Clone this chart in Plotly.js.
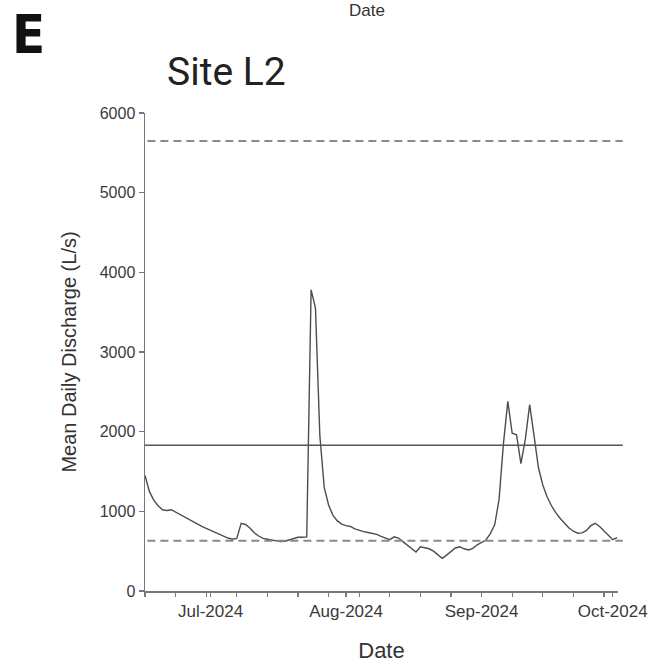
<!DOCTYPE html>
<html>
<head>
<meta charset="utf-8">
<script src="https://cdn.plot.ly/plotly-3.0.1.min.js"></script>
<style>
html,body{margin:0;padding:0;background:#fff;}
#chart{width:659px;height:665px;}
</style>
</head>
<body>
<div id="chart"></div>
<script>
// Daily dates from 2024-06-16 to 2024-10-02
const startDate = '2024-06-16';
const discharge = [
  1450, 1250, 1140, 1070, 1020, 1010, 1020, 990, 950, 920,
  890, 870, 840, 810, 785, 760, 730, 705, 685, 665,
  650, 660, 850, 835, 790, 730, 690, 660, 650, 640,
  630, 620, 625, 640, 660, 675, 675, 680, 3780, 3550,
  1950, 1300, 1080, 950, 880, 840, 820, 810, 780, 760,
  745, 735, 725, 710, 685, 660, 645, 680, 665, 620,
  575, 530, 490, 555, 545, 530, 500, 460, 410, 450,
  495, 540, 556, 530, 515, 535, 580, 610, 640, 720,
  830, 1150, 1850, 2380, 1980, 1960, 1600, 1900, 2340, 1950,
  1550, 1330, 1180, 1070, 980, 910, 850, 790, 750, 725,
  730, 760, 820, 850, 810, 750, 700, 645, 670
];
const upperThreshold = 5650;
const meanLevel = 1830;
const lowerThreshold = 630;

const monthTicks = ['2024-07-01', '2024-08-01', '2024-09-01', '2024-10-01'];
const monthLabels = ['Jul-2024', 'Aug-2024', 'Sep-2024', 'Oct-2024'];
const yTicks = [0, 1000, 2000, 3000, 4000, 5000, 6000];

function addDays(iso, n) {
  const d = new Date(iso + 'T00:00:00Z');
  d.setUTCDate(d.getUTCDate() + n);
  return d.toISOString().slice(0, 10);
}
const dates = discharge.map((_, i) => addDays(startDate, i));

const trace = {
  x: dates, y: discharge, type: 'scatter', mode: 'lines',
  line: {color: '#4d4d4d', width: 1.4},
  hoverinfo: 'skip'
};

const fam = '"Liberation Sans", Arial, sans-serif';

const layout = {
  width: 659, height: 665,
  margin: {l: 145, r: 41, t: 113, b: 74},
  paper_bgcolor: '#ffffff', plot_bgcolor: '#ffffff',
  showlegend: false,
  xaxis: {
    type: 'date',
    range: ['2024-06-16', '2024-10-02 05:00'],
    tickvals: monthTicks, ticktext: monthLabels,
    ticks: 'outside', ticklen: 4, tickcolor: '#777', tickwidth: 1.3,
    minor: {ticks: 'outside', ticklen: 4, tickcolor: '#777', tickwidth: 1.3, tick0: '2024-06-16', dtick: 7 * 86400000},
    showgrid: false, zeroline: false,
    showline: true, linecolor: '#777', linewidth: 1.5,
    tickfont: {family: fam, size: 17, color: '#3a3a3a'},
    title: {text: 'Date', font: {family: fam, size: 22, color: '#333'}, standoff: 22}
  },
  yaxis: {
    range: [0, 6000],
    tickvals: yTicks,
    ticks: 'outside', ticklen: 5, tickcolor: '#777', tickwidth: 1.3,
    showgrid: false, zeroline: false,
    showline: true, linecolor: '#777', linewidth: 1.5,
    tickfont: {family: fam, size: 16, color: '#3a3a3a'},
    title: {text: 'Mean Daily Discharge (L/s)', font: {family: fam, size: 20, color: '#333'}, standoff: 17}
  },
  shapes: [
    {type: 'line', xref: 'paper', x0: 0.005, x1: 1.01, yref: 'y', y0: upperThreshold, y1: upperThreshold,
     line: {color: '#8a8a8a', width: 2, dash: '8px,5px'}},
    {type: 'line', xref: 'paper', x0: 0, x1: 1.01, yref: 'y', y0: meanLevel, y1: meanLevel,
     line: {color: '#555555', width: 1.4}},
    {type: 'line', xref: 'paper', x0: 0.005, x1: 1.01, yref: 'y', y0: lowerThreshold, y1: lowerThreshold,
     line: {color: '#8a8a8a', width: 2, dash: '8px,5px'}}
  ],
  annotations: [
    {text: 'Site L2', xref: 'paper', yref: 'paper', x: 0.172, y: 1.033, xanchor: 'center', yanchor: 'bottom',
     showarrow: false, font: {family: 'Roboto, "Liberation Sans", sans-serif', size: 39, color: '#222'}},
    {text: '<b>E</b>', xref: 'paper', yref: 'paper', x: -0.247, y: 1.1632, xanchor: 'center', yanchor: 'middle',
     showarrow: false, font: {family: '"Liberation Sans Narrow", "DejaVu Sans Condensed", "Liberation Sans", sans-serif', size: 54, color: '#111'}},
    {text: 'Date', xref: 'paper', yref: 'paper', x: 0.47, y: 1.2134, xanchor: 'center', yanchor: 'middle',
     showarrow: false, font: {family: fam, size: 17, color: '#333'}}
  ]
};

Plotly.newPlot('chart', [trace], layout, {displayModeBar: false, staticPlot: true});
</script>
</body>
</html>
